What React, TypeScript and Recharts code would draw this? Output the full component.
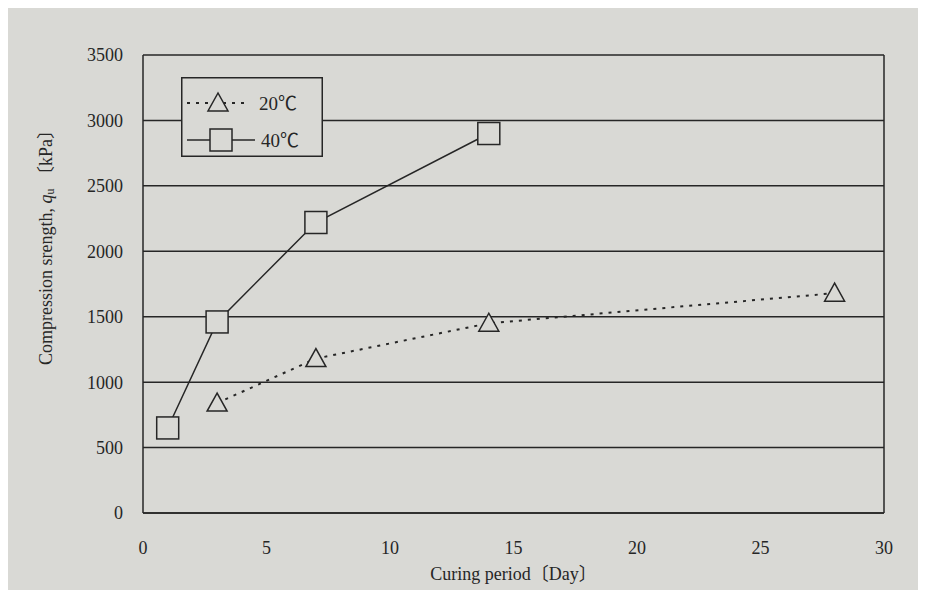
import {
  CartesianGrid,
  Line,
  LineChart,
  ReferenceLine,
  XAxis,
  YAxis,
} from 'recharts'

// curing period [day] and compression strength q_u [kPa]
const days20 = [3, 7, 14, 28]
const qu20 = [840, 1180, 1450, 1680]
const days40 = [1, 3, 7, 14]
const qu40 = [650, 1460, 2220, 2900]

const xTicks = [0, 5, 10, 15, 20, 25, 30]
const yTicks = [0, 500, 1000, 1500, 2000, 2500, 3000, 3500]

const series20 = days20.map((d, i) => ({ day: d, qu: qu20[i] }))
const series40 = days40.map((d, i) => ({ day: d, qu: qu40[i] }))

const INK = '#262626'
const PAPER = '#d9d9d5'
const FONT = '"Liberation Serif", "Times New Roman", "Noto Sans CJK JP", serif'

function Triangle({ cx, cy }: { cx?: number; cy?: number }) {
  if (cx == null || cy == null) return null
  return (
    <polygon
      points={`${cx},${cy - 10} ${cx - 10},${cy + 8} ${cx + 10},${cy + 8}`}
      fill={PAPER}
      stroke={INK}
      strokeWidth={1.5}
    />
  )
}

function Square({ cx, cy }: { cx?: number; cy?: number }) {
  if (cx == null || cy == null) return null
  return <rect x={cx - 11} y={cy - 11} width={22} height={22} fill={PAPER} stroke={INK} strokeWidth={1.5} />
}

function LegendBox() {
  return (
    <svg width={142} height={80} style={{ display: 'block', background: PAPER }}>
      <rect x={0.75} y={0.75} width={140.5} height={78.5} fill="none" stroke={INK} strokeWidth={1.5} />
      <line x1={6} y1={26} x2={66} y2={26} stroke={INK} strokeWidth={2} strokeDasharray="3 6" />
      <Triangle cx={37} cy={26} />
      <text x={78} y={33} fontFamily={FONT} fontSize={19} fill={INK}>20℃</text>
      <line x1={6} y1={63} x2={74} y2={63} stroke={INK} strokeWidth={1.5} />
      <Square cx={40} cy={63} />
      <text x={80} y={70} fontFamily={FONT} fontSize={19} fill={INK}>40℃</text>
    </svg>
  )
}

function YLabel() {
  const cx = 46
  const cy = 243
  return (
    <text
      x={cx}
      y={cy}
      transform={`rotate(-90 ${cx} ${cy})`}
      textAnchor="middle"
      dominantBaseline="central"
      fontFamily={FONT}
      fontSize={18}
      fill={INK}
    >
      Compression srength,{' '}
      <tspan fontStyle="italic">q</tspan>
      <tspan fontSize={12} dy={4}>u</tspan>
      <tspan dy={-4}> 〔kPa〕</tspan>
    </text>
  )
}

export default function App() {
  return (
    <div style={{ position: 'absolute', left: 0, top: 0, width: 925, height: 598, background: '#fff' }}>
      <div style={{ position: 'absolute', left: 8, top: 8, width: 910, height: 582, background: PAPER }} />
      <div style={{ position: 'absolute', left: 0, top: 0 }}>
        <LineChart
          width={925}
          height={598}
          margin={{ top: 55, right: 41, bottom: 55, left: 83 }}
          style={{ fontFamily: FONT }}
        >
          <CartesianGrid vertical={false} stroke={INK} strokeWidth={1.5} />
          <XAxis
            type="number"
            dataKey="day"
            domain={[0, 30]}
            ticks={xTicks}
            allowDuplicatedCategory={false}
            tickLine={false}
            axisLine={{ stroke: INK, strokeWidth: 1.5 }}
            tick={{ fill: INK, fontSize: 18, fontFamily: FONT }}
            tickMargin={22}
            label={{
              value: 'Curing period〔Day〕',
              position: 'insideBottom',
              offset: -37,
              fill: INK,
              fontSize: 18,
              fontFamily: FONT,
            }}
          />
          <YAxis
            type="number"
            domain={[0, 3500]}
            ticks={yTicks}
            width={60}
            tickLine={false}
            axisLine={{ stroke: INK, strokeWidth: 1.5 }}
            tick={{ fill: INK, fontSize: 18, fontFamily: FONT }}
            tickMargin={14}
            label={<YLabel />}
          />
          <ReferenceLine x={30} stroke={INK} strokeWidth={1.5} />
          <Line
            data={series20}
            dataKey="qu"
            name="20℃"
            stroke={INK}
            strokeWidth={2}
            strokeDasharray="3 6"
            dot={<Triangle />}
            activeDot={false}
            isAnimationActive={false}
          />
          <Line
            data={series40}
            dataKey="qu"
            name="40℃"
            stroke={INK}
            strokeWidth={1.5}
            dot={<Square />}
            activeDot={false}
            isAnimationActive={false}
          />
        </LineChart>
      </div>
      <div style={{ position: 'absolute', left: 181, top: 77 }}>
        <LegendBox />
      </div>
    </div>
  )
}
